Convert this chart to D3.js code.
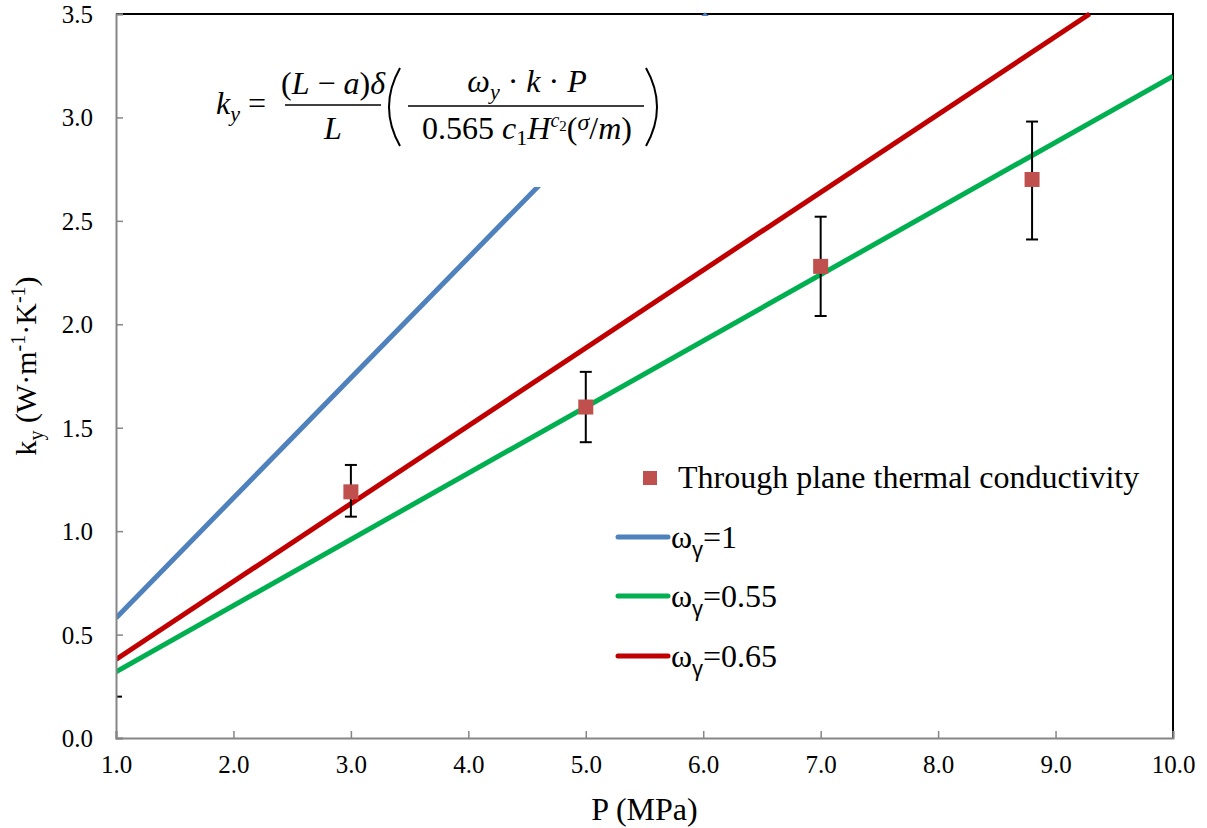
<!DOCTYPE html>
<html>
<head>
<meta charset="utf-8">
<script src="https://cdn.jsdelivr.net/npm/d3@7"></script>
<style>
  body { margin: 0; background: #fff; }
</style>
</head>
<body>
<script>
// measured points (through plane thermal conductivity)
var pressure = [3.0, 5.0, 7.0, 8.8];
var conductivity = [1.19, 1.60, 2.28, 2.70];
var errLow = [1.07, 1.43, 2.04, 2.41];
var errHigh = [1.32, 1.77, 2.52, 2.98];

// model lines, read at both ends
var lineNames = ["1", "0.55", "0.65"];
var lineColors = ["#4F81BD", "#00B050", "#C00000"];
var lineP = [[1.0, 6.03], [1.0, 10.0], [1.0, 9.29]];
var lineK = [[0.58, 3.50], [0.32, 3.20], [0.38, 3.50]];

// stray error cap at the left edge
var strayCapK = 0.2;

var xTicks = [1, 2, 3, 4, 5, 6, 7, 8, 9, 10];
var yTicks = [0, 0.5, 1, 1.5, 2, 2.5, 3, 3.5];

var W = 1207, H = 828;
var pLeft = 116, pRight = 1173, pTop = 14, pBottom = 738;
var serif = "'Liberation Serif', 'Times New Roman', 'DejaVu Serif', serif";

var svg = d3.select("body").append("svg")
   .attr("width", W)
   .attr("height", H)
   .style("font-family", serif);

var x = d3.scaleLinear().domain([1, 10]).range([pLeft, pRight]);
var y = d3.scaleLinear().domain([0, 3.5]).range([pBottom, pTop]);

svg.append("clipPath").attr("id", "plot")
   .append("rect")
   .attr("x", pLeft).attr("y", pTop - 2)
   .attr("width", pRight - pLeft).attr("height", pBottom - pTop + 2);

// top and right border
svg.append("path")
   .attr("d", "M" + pLeft + "," + pTop + "H" + pRight + "V" + pBottom)
   .attr("fill", "none").attr("stroke", "#000").attr("stroke-width", 2);

// model lines
var lineGen = d3.line().x(function(d){ return x(d[0]); }).y(function(d){ return y(d[1]); });
var lines = svg.append("g").attr("clip-path", "url(#plot)");
lineP.forEach(function(ps, i){
   lines.append("path")
      .datum([[ps[0], lineK[i][0]], [ps[1], lineK[i][1]]])
      .attr("d", lineGen)
      .attr("fill", "none")
      .attr("stroke", lineColors[i])
      .attr("stroke-width", 5);
});

// formula box hides part of the blue line
svg.append("rect")
   .attr("x", 190).attr("y", 16)
   .attr("width", 520).attr("height", 171)
   .attr("fill", "#fff");

// error bars
var pts = pressure.map(function(p, i){
   return {p: p, k: conductivity[i], lo: errLow[i], hi: errHigh[i]};
});
var eb = svg.append("g").attr("stroke", "#000").attr("stroke-width", 2);
pts.forEach(function(d){
   eb.append("line").attr("x1", x(d.p)).attr("x2", x(d.p)).attr("y1", y(d.lo)).attr("y2", y(d.hi));
   eb.append("line").attr("x1", x(d.p) - 6).attr("x2", x(d.p) + 6).attr("y1", y(d.lo)).attr("y2", y(d.lo));
   eb.append("line").attr("x1", x(d.p) - 6).attr("x2", x(d.p) + 6).attr("y1", y(d.hi)).attr("y2", y(d.hi));
});
eb.append("line").attr("x1", x(1)).attr("x2", x(1) + 6).attr("y1", y(strayCapK)).attr("y2", y(strayCapK));

// markers
svg.selectAll("rect.pt")
   .data(pts)
   .enter()
   .append("rect")
   .attr("class", "pt")
   .attr("x", function(d){ return x(d.p) - 7.5; })
   .attr("y", function(d){ return y(d.k) - 7.5; })
   .attr("width", 15).attr("height", 15)
   .attr("fill", "#C0504D");

// axes
var xAxis = d3.axisBottom(x).tickValues(xTicks).tickSize(-7).tickPadding(17)
   .tickFormat(d3.format(".1f"));
var yAxis = d3.axisLeft(y).tickValues(yTicks).tickSize(-7).tickPadding(23)
   .tickFormat(d3.format(".1f"));

var gx = svg.append("g").attr("transform", "translate(0," + pBottom + ")").call(xAxis);
var gy = svg.append("g").attr("transform", "translate(" + pLeft + ",0)").call(yAxis);
[gx, gy].forEach(function(g){
   g.attr("font-family", null).attr("font-size", null);
   g.select(".domain").attr("stroke", "#868686").attr("stroke-width", 2);
   g.selectAll(".tick line").attr("stroke", "#868686").attr("stroke-width", 1.5);
   g.selectAll(".tick text")
      .style("font-family", serif)
      .style("font-size", "25px")
      .attr("fill", "#000");
});
gx.selectAll(".tick text").attr("dy", "0.71em");
gy.selectAll(".tick text").attr("dy", "0.34em");

// axis titles
svg.append("text")
   .attr("x", (pLeft + pRight) / 2).attr("y", 820)
   .attr("text-anchor", "middle")
   .style("font-family", serif)
   .attr("font-size", 32)
   .text("P (MPa)");

var yl = svg.append("text")
   .attr("transform", "translate(36,366) rotate(-90)")
   .attr("text-anchor", "middle")
   .style("font-family", serif)
   .attr("font-size", 30);
yl.append("tspan").text("k");
yl.append("tspan").attr("font-size", 20).attr("dy", 7).text("y");
yl.append("tspan").attr("dy", -7).text(" (W·m");
yl.append("tspan").attr("font-size", 20).attr("dy", -11).text("-1");
yl.append("tspan").attr("dy", 11).text("·K");
yl.append("tspan").attr("font-size", 20).attr("dy", -11).text("-1");
yl.append("tspan").attr("dy", 11).text(")");

// legend
var lg = svg.append("g").style("font-family", serif);
lg.append("rect").attr("x", 643).attr("y", 471).attr("width", 14).attr("height", 14).attr("fill", "#C0504D");
lg.append("text").attr("x", 678).attr("y", 488).attr("font-size", 32).text("Through plane thermal conductivity");
var legY = [537, 596, 656];
lineNames.forEach(function(n, i){
   lg.append("line")
      .attr("x1", 618).attr("x2", 668)
      .attr("y1", legY[i]).attr("y2", legY[i])
      .attr("stroke", lineColors[i]).attr("stroke-width", 5)
      .attr("stroke-linecap", "round");
   var t = lg.append("text").attr("x", 671).attr("y", legY[i] + 11).attr("font-size", 32);
   t.append("tspan").text("ω");
   t.append("tspan").style("font-family", "'Liberation Sans', sans-serif").attr("font-size", 22).attr("dy", 9).text("γ");
   t.append("tspan").attr("dy", -9).text("=" + n);
});

// formula
var f = svg.append("g").style("font-family", serif).attr("font-size", 32);
var t1 = f.append("text").attr("x", 216).attr("y", 114);
t1.append("tspan").attr("font-style", "italic").text("k");
t1.append("tspan").attr("font-style", "italic").attr("font-size", 22).attr("dy", 7).text("y");
t1.append("tspan").attr("dy", -7).text(" =");

var num1 = f.append("text").attr("x", 333).attr("y", 94).attr("text-anchor", "middle");
num1.append("tspan").text("(");
num1.append("tspan").attr("font-style", "italic").text("L");
num1.append("tspan").text(" − ");
num1.append("tspan").attr("font-style", "italic").text("a");
num1.append("tspan").text(")");
num1.append("tspan").attr("font-style", "italic").text("δ");
f.append("line").attr("x1", 285).attr("x2", 381).attr("y1", 105).attr("y2", 105).attr("stroke", "#000").attr("stroke-width", 1.5);
f.append("text").attr("x", 333).attr("y", 139).attr("text-anchor", "middle").attr("font-style", "italic").text("L");

f.append("path").attr("d", "M400,68 Q378,107 400,146").attr("fill", "none").attr("stroke", "#000").attr("stroke-width", 2);
f.append("path").attr("d", "M646,68 Q668,107 646,146").attr("fill", "none").attr("stroke", "#000").attr("stroke-width", 2);

var num2 = f.append("text").attr("x", 527).attr("y", 92).attr("text-anchor", "middle");
num2.append("tspan").attr("font-style", "italic").text("ω");
num2.append("tspan").attr("font-style", "italic").attr("font-size", 22).attr("dy", 7).text("y");
num2.append("tspan").attr("dy", -7).text(" · ");
num2.append("tspan").attr("font-style", "italic").text("k");
num2.append("tspan").text(" · ");
num2.append("tspan").attr("font-style", "italic").text("P");
f.append("line").attr("x1", 408).attr("x2", 644).attr("y1", 106).attr("y2", 106).attr("stroke", "#000").attr("stroke-width", 1.5);

var den2 = f.append("text").attr("x", 527).attr("y", 139).attr("text-anchor", "middle");
den2.append("tspan").text("0.565 ");
den2.append("tspan").attr("font-style", "italic").text("c");
den2.append("tspan").attr("font-size", 22).attr("dy", 6).text("1");
den2.append("tspan").attr("font-style", "italic").attr("dy", -6).text("H");
den2.append("tspan").attr("font-style", "italic").attr("font-size", 20).attr("dy", -12).text("c");
den2.append("tspan").attr("font-size", 15).attr("dy", 4).text("2");
den2.append("tspan").attr("dy", 8).text("(");
den2.append("tspan").attr("font-style", "italic").attr("font-size", 24).attr("dy", -9).text("σ");
den2.append("tspan").attr("dy", 9).text("/");
den2.append("tspan").attr("font-style", "italic").text("m");
den2.append("tspan").text(")");
</script>
</body>
</html>
